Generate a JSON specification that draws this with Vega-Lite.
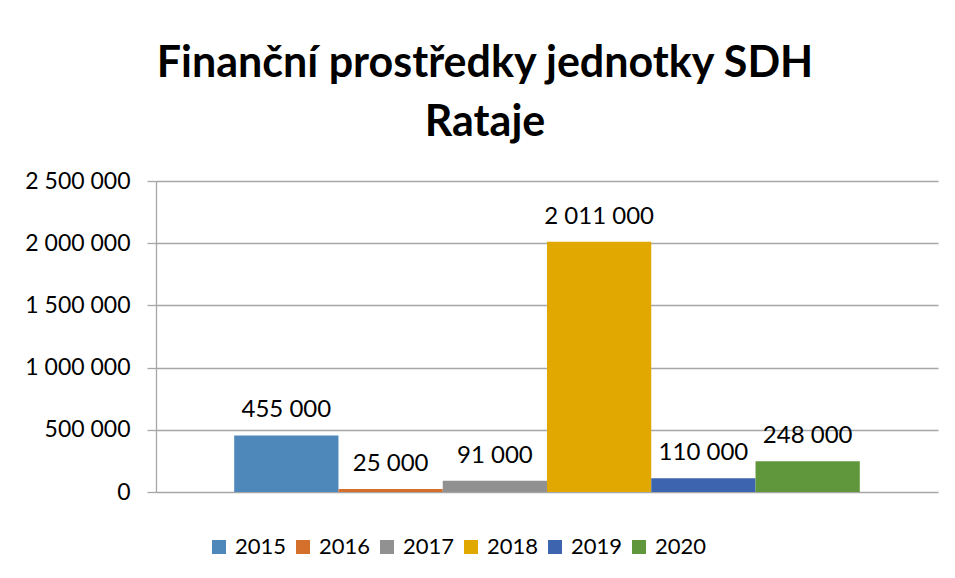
{
  "$schema": "https://vega.github.io/schema/vega-lite/v6.json",
  "width": 782,
  "height": 311,
  "autosize": "none",
  "padding": {"left": 156, "top": 181, "right": 17, "bottom": 86},
  "background": "white",
  "title": {
    "text": ["Finanční prostředky jednotky SDH", "Rataje"],
    "font": "Lato",
    "fontSize": 43,
    "fontWeight": "bold",
    "color": "#000000",
    "lineHeight": 59,
    "anchor": "middle",
    "dx": -62,
    "offset": 25
  },
  "config": {
    "locale": {
      "number": {"decimal": ",", "thousands": " ", "grouping": [3], "currency": ["", " Kč"]}
    },
    "view": {"stroke": null},
    "font": "Lato"
  },
  "data": {
    "values": [
      {"rok": "2015", "castka": 455000},
      {"rok": "2016", "castka": 25000},
      {"rok": "2017", "castka": 91000},
      {"rok": "2018", "castka": 2011000},
      {"rok": "2019", "castka": 110000},
      {"rok": "2020", "castka": 248000}
    ]
  },
  "encoding": {
    "x": {
      "field": "rok",
      "type": "nominal",
      "sort": null,
      "scale": {"paddingInner": 0, "paddingOuter": 0.75},
      "axis": null
    },
    "y": {
      "field": "castka",
      "type": "quantitative",
      "scale": {"domain": [0, 2500000], "nice": false},
      "axis": {
        "title": null,
        "values": [0, 500000, 1000000, 1500000, 2000000, 2500000],
        "format": ",.0f",
        "labelFont": "Lato",
        "labelFontSize": 23,
        "labelColor": "#000000",
        "labelPadding": 17,
        "tickSize": 9,
        "tickColor": "#A6A6A6",
        "domainColor": "#A6A6A6",
        "gridColor": "#A6A6A6",
        "grid": true,
        "gridWidth": 1.3,
        "tickWidth": 1.3,
        "domainWidth": 1.3
      }
    }
  },
  "layer": [
    {
      "mark": {"type": "bar"},
      "encoding": {
        "color": {
          "field": "rok",
          "type": "nominal",
          "scale": {
            "domain": ["2015", "2016", "2017", "2018", "2019", "2020"],
            "range": ["#4E88BB", "#D4702B", "#919191", "#E0A800", "#3D64AE", "#61973C"]
          },
          "legend": {
            "title": null,
            "orient": "none",
            "direction": "horizontal",
            "columns": 6,
            "legendX": 52,
            "legendY": 355,
            "symbolType": "square",
            "symbolSize": 196,
            "symbolStrokeWidth": 0,
            "labelFont": "Lato",
            "labelFontSize": 22,
            "labelColor": "#000000",
            "labelOffset": 5,
            "columnPadding": 5
          }
        }
      }
    },
    {
      "mark": {"type": "text", "baseline": "alphabetic", "dy": -18, "font": "Lato", "fontSize": 24, "color": "#000000"},
      "encoding": {
        "text": {"field": "castka", "type": "quantitative", "format": ","}
      }
    }
  ]
}
